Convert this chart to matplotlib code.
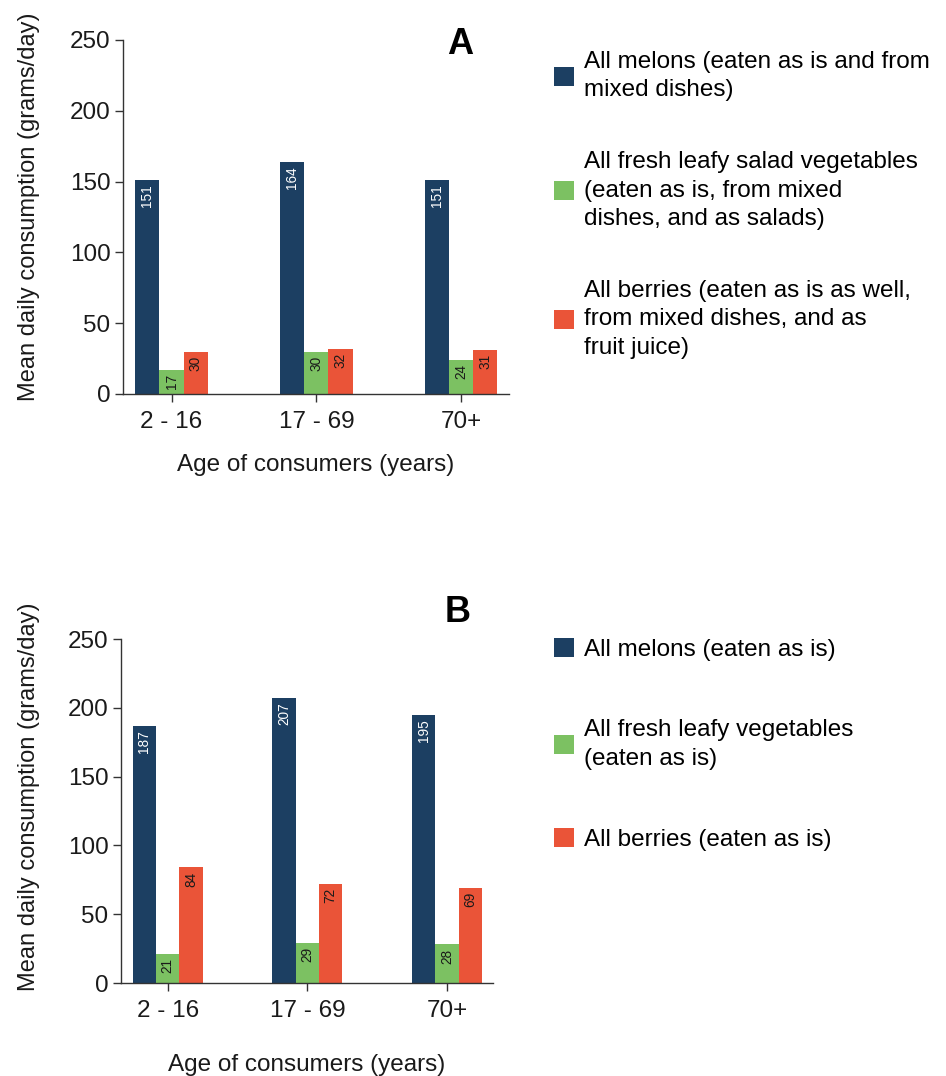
import matplotlib
matplotlib.use("Agg")
import matplotlib.pyplot as plt
import numpy as np

plt.rcParams['font.family'] = ['Liberation Sans', 'DejaVu Sans']

# data
age_groups = ["2 - 16", "17 - 69", "70+"]

melons_a = [151, 164, 151]
leafy_a = [17, 30, 24]
berries_a = [30, 32, 31]

melons_b = [187, 207, 195]
leafy_b = [21, 29, 28]
berries_b = [84, 72, 69]

labels_a = ["All melons (eaten as is and from\nmixed dishes)",
            "All fresh leafy salad vegetables\n(eaten as is, from mixed\ndishes, and as salads)",
            "All berries (eaten as is as well,\nfrom mixed dishes, and as\nfruit juice)"]
labels_b = ["All melons (eaten as is)",
            "All fresh leafy vegetables\n(eaten as is)",
            "All berries (eaten as is)"]

colors = ["#1c3f62", "#7cc162", "#ea5438"]
text_colors = ["white", "#1a1a1a", "#1a1a1a"]

W, H = 946, 1076
FS = 17.5
fig = plt.figure(figsize=(W / 100, H / 100), dpi=100)


def draw_panel(ax, series, labels, letter, letter_xy, leg_xy, spacing):
    x = np.arange(len(age_groups))
    w = 1 / 6
    handles = []
    for i, vals in enumerate(series):
        pos = x + (i - 1) * w
        bars = ax.bar(pos, vals, width=w, color=colors[i], label=labels[i])
        handles.append(bars)
        # value labels inside the top of each bar
        for px, v in zip(pos, vals):
            ax.annotate(str(v), (px, v), xytext=(0, -3), textcoords="offset points",
                        rotation=90, ha="center", va="top", fontsize=9.8,
                        color=text_colors[i])
    ax.set_ylim(0, 250)
    ax.set_yticks([0, 50, 100, 150, 200, 250])
    ax.set_xlim(-0.335, 2.33)
    ax.set_xticks(x)
    ax.set_xticklabels(age_groups)
    for s in ["top", "right"]:
        ax.spines[s].set_visible(False)
    for s in ["left", "bottom"]:
        ax.spines[s].set_color("#333333")
        ax.spines[s].set_linewidth(1.0)
    ax.tick_params(axis="both", labelsize=FS, colors="#333333", labelcolor="#1a1a1a",
                   length=6, width=1.0, pad=3)
    ax.tick_params(axis="x", pad=6)
    ax.set_ylabel("Mean daily consumption (grams/day)", fontsize=17, color="#1a1a1a")
    ax.set_xlabel("Age of consumers (years)", fontsize=FS, color="#1a1a1a")
    fig.text(letter_xy[0], letter_xy[1], letter, fontsize=26, fontweight="bold",
             ha="center", va="center")
    leg = fig.legend(handles=handles, labels=labels, loc="upper left", bbox_to_anchor=leg_xy,
                     frameon=False, fontsize=FS, borderpad=0, borderaxespad=0,
                     handlelength=0.82, handleheight=0.82, handletextpad=0.42,
                     labelspacing=spacing)
    for t in leg.get_texts():
        t.set_linespacing(1.38)


ax1 = fig.add_axes([123 / W, 1 - 394 / H, 386 / W, 354 / H])
draw_panel(ax1, [melons_a, leafy_a, berries_a], labels_a, "A",
           (460 / W, 1 - 45 / H), (554 / W, 1 - 51 / H), 2.05)
ax1.yaxis.set_label_coords(-0.215, 0.53)
ax1.xaxis.set_label_coords(0.5, -0.17)

ax2 = fig.add_axes([121 / W, 1 - 983 / H, 372 / W, 344 / H])
draw_panel(ax2, [melons_b, leafy_b, berries_b], labels_b, "B",
           (458 / W, 1 - 613 / H), (554 / W, 1 - 638 / H), 2.4)
ax2.yaxis.set_label_coords(-0.218, 0.54)
ax2.xaxis.set_label_coords(0.5, -0.205)

fig.savefig("out.png", dpi=100)
